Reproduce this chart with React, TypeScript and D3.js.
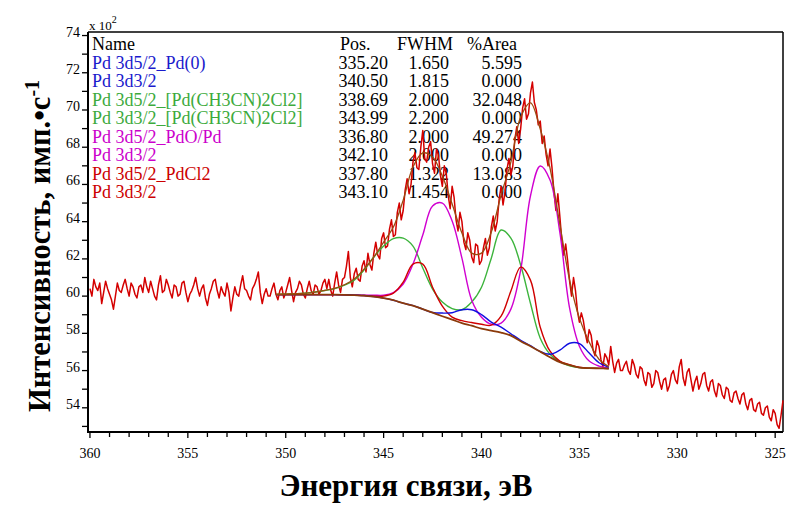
import React from 'react';
import * as d3 from 'd3';

const FONT = '"Liberation Serif", "Times New Roman", serif';

// raw spectrum, one count every 0.1 eV from 360 eV down (units of 10^2)
const specStart = 360;
const specStep = 0.1;
const spectrum = [
  60.4, 60.0, 60.9, 60.5, 60.3, 60.7, 59.6, 60.2, 60.8, 60.4, 60.1, 59.8, 59.3, 60.0, 60.7, 60.3, 60.2, 60.6, 60.9, 60.4,
  60.0, 60.7, 60.5, 60.1, 59.9, 60.5, 60.6, 60.2, 61.0, 60.5, 60.2, 60.8, 60.4, 60.0, 59.8, 60.6, 61.1, 60.2, 60.3, 60.9,
  60.6, 60.2, 59.9, 60.6, 60.5, 60.0, 60.1, 60.7, 60.8, 60.2, 59.7, 60.1, 60.3, 60.6, 61.0, 60.4, 60.0, 60.4, 60.6, 59.9,
  59.5, 60.1, 60.4, 60.8, 60.9, 60.3, 59.9, 60.5, 60.2, 60.0, 60.7, 60.2, 59.2, 59.9, 60.5, 60.1, 60.0, 60.6, 61.1, 60.4,
  60.3, 60.0, 59.8, 60.4, 60.6, 60.9, 61.3, 60.2, 59.6, 60.1, 60.4, 60.0,
  60.0, 60.4, 60.7, 60.1, 59.8, 60.3, 60.5, 59.9, 60.2, 60.6, 61.0, 60.3, 59.7, 60.2, 60.4, 60.8, 60.6, 60.1, 59.9, 60.4,
  60.8, 60.3, 60.1, 60.6, 60.5, 60.1, 60.3, 60.7, 60.9, 60.4,
  60.9, 60.3, 60.0, 60.7, 61.3, 60.6, 60.2, 60.9, 61.0, 61.6, 62.4, 61.0, 60.5, 61.2, 61.5, 60.9, 60.8, 61.6, 61.9, 61.3,
  62.3, 61.7, 61.4, 62.3, 62.9, 62.2, 62.0, 63.1, 63.4, 62.6, 62.7, 63.6, 64.1, 63.2, 63.3, 64.5, 65.0, 64.1, 64.6, 65.7,
  66.3, 65.5, 66.0, 67.2, 67.7, 66.9, 66.8, 68.0, 68.9, 67.4,
  67.2, 68.0, 68.3, 67.1, 66.6, 67.9, 67.6, 66.5, 65.9, 67.0, 66.6, 65.4, 64.7, 65.9, 65.3, 64.1, 63.5, 64.5, 64.0, 62.9,
  62.5, 63.4, 63.0, 62.1, 61.8, 62.8, 62.7, 61.7, 61.9, 62.6,
  63.1, 62.2, 62.6, 63.7, 64.3, 63.5, 64.0, 65.2, 65.9, 64.9, 65.6, 66.8, 67.4, 66.5, 67.0, 68.4, 69.1, 68.2, 69.0, 70.1,
  70.6, 69.5, 69.8, 70.9, 71.5, 70.4, 70.0, 69.2, 69.4, 68.2, 68.6, 67.6, 67.0, 67.9, 66.9, 65.6, 64.6, 65.5, 64.3, 63.0,
  62.2, 62.8, 61.9, 60.8, 60.0, 61.0, 60.3, 59.2, 58.6, 59.1,
  58.7, 58.0, 57.5, 58.2, 57.9, 57.1, 56.8, 57.6, 57.3, 56.6, 56.2, 56.9, 56.7, 56.3, 57.3, 56.5, 55.9, 56.4, 56.6, 56.0,
  56.0, 56.3, 56.5, 56.0, 55.8, 56.6, 56.3, 55.8, 55.6, 56.2, 56.1, 55.5, 55.2, 55.9, 55.8, 55.1, 55.3, 56.0, 55.9, 55.4,
  55.0, 55.5, 55.6, 54.9, 55.2, 55.8, 56.0, 55.5, 55.3, 56.2, 56.6, 55.6, 55.2, 55.9, 56.1, 55.5, 54.9, 55.4, 55.7, 55.0,
  55.3, 55.8, 55.9, 55.2, 54.9, 55.4, 55.5, 54.9, 54.6, 55.3, 55.2, 54.7, 54.5, 55.1, 55.0, 54.4, 54.3, 54.8, 54.9, 54.5,
  54.2, 54.7, 54.8, 54.2, 53.9, 54.4, 54.5, 53.9, 53.8, 54.2, 54.3, 53.7, 53.6, 54.0, 54.1, 53.5, 53.3, 53.9, 53.7, 53.1,
  52.9, 53.6, 54.4,
];

// fit curves, sampled every 0.5 eV
const fitEnergy = [
  350.5, 350, 349.5, 349, 348.5, 348, 347.5, 347, 346.5, 346,
  345.5, 345, 344.5, 344, 343.5, 343, 342.5, 342, 341.5, 341,
  340.5, 340, 339.5, 339, 338.5, 338, 337.5, 337, 336.5, 336,
  335.5, 335, 334.5, 334, 333.5,
];
const background = [
  60.08, 60.08, 60.08, 60.08, 60.08, 60.08, 60.08, 60.07, 60.05, 60.03,
  59.97, 59.89, 59.78, 59.62, 59.49, 59.30, 59.11, 58.92, 58.74, 58.55,
  58.41, 58.25, 58.15, 58.04, 57.88, 57.58, 57.31, 57.02, 56.72, 56.45,
  56.29, 56.16, 56.13, 56.12, 56.11,
];
const fitPd0 = [
  60.08, 60.08, 60.08, 60.08, 60.08, 60.08, 60.08, 60.07, 60.05, 60.03,
  59.97, 59.89, 59.78, 59.62, 59.49, 59.30, 59.12, 59.09, 59.11, 59.27,
  59.27, 59.01, 58.60, 58.33, 57.98, 57.63, 57.34, 57.02, 56.88, 57.10,
  57.47, 57.45, 56.94, 56.42, 56.18,
];
const fitComplex = [
  60.09, 60.11, 60.13, 60.16, 60.22, 60.30, 60.40, 60.59, 60.86, 61.40,
  62.10, 62.69, 63.09, 63.12, 62.69, 61.51, 60.38, 59.68, 59.33, 59.27,
  59.68, 60.48, 62.04, 63.55, 63.12, 61.67, 59.62, 57.74, 56.88, 56.48,
  56.26, 56.16, 56.13, 56.12, 56.11,
];
const fitPdO = [
  60.08, 60.08, 60.08, 60.08, 60.08, 60.08, 60.08, 60.07, 60.05, 60.05,
  60.05, 60.05, 60.19, 60.65, 61.72, 63.28, 64.84, 65.00, 64.03, 62.04,
  59.78, 58.87, 58.49, 58.55, 59.30, 61.40, 65.38, 66.99, 66.24, 63.44,
  59.35, 57.31, 56.51, 56.24, 56.13,
];
const fitPdCl2 = [
  60.08, 60.08, 60.08, 60.08, 60.08, 60.08, 60.08, 60.07, 60.05, 60.03,
  60.00, 60.00, 60.16, 60.75, 61.72, 61.72, 60.48, 59.46, 58.87, 58.68,
  58.58, 58.49, 58.44, 58.92, 60.27, 61.56, 60.86, 58.33, 57.04, 56.51,
  56.32, 56.18, 56.13, 56.12, 56.11,
];
const envelope = [
  60.09, 60.11, 60.13, 60.16, 60.22, 60.31, 60.42, 60.61, 60.92, 61.45,
  62.10, 62.90, 63.71, 65.16, 66.94, 67.69, 67.47, 66.45, 64.95, 63.39,
  62.31, 62.31, 63.44, 65.43, 67.20, 69.62, 70.38, 68.98, 66.88, 63.87,
  60.86, 58.82, 57.53, 56.61, 56.21,
];

// peak table
const peakNames = [
  'Pd 3d5/2_Pd(0)', 'Pd 3d3/2',
  'Pd 3d5/2_[Pd(CH3CN)2Cl2]', 'Pd 3d3/2_[Pd(CH3CN)2Cl2]',
  'Pd 3d5/2_PdO/Pd', 'Pd 3d3/2',
  'Pd 3d5/2_PdCl2', 'Pd 3d3/2',
];
const peakPos = ['335.20', '340.50', '338.69', '343.99', '336.80', '342.10', '337.80', '343.10'];
const peakFwhm = ['1.650', '1.815', '2.000', '2.200', '2.000', '2.000', '1.322', '1.454'];
const peakArea = ['5.595', '0.000', '32.048', '0.000', '49.274', '0.000', '13.083', '0.000'];

const xTickLabels = [360, 355, 350, 345, 340, 335, 330, 325];
const yTickLabels = [54, 56, 58, 60, 62, 64, 66, 68, 70, 72, 74];

const textColors = ['#1a1acc', '#1a1acc', '#3caa3c', '#3caa3c', '#cc00cc', '#cc00cc', '#cc0000', '#cc0000'];

const L = 88, R = 783, T = 32, B = 432;
const x = d3.scaleLinear().domain([360.1, 324.6]).range([L, R]);
const y = d3.scaleLinear().domain([52.7, 74.19]).range([B, T]);

export default function App() {
  const specLine = d3.line<number>()
    .x((_, i) => x(specStart - i * specStep))
    .y(d => y(d));
  const fitLine = d3.line<number>()
    .x((_, i) => x(fitEnergy[i]))
    .y(d => y(d))
    .curve(d3.curveCatmullRom.alpha(0.5));

  const xMinor = d3.range(325, 361, 1);
  const yMinor = d3.range(53, 75, 1);
  const rowY = (i: number) => 68.5 + i * 18.5;

  return (
    <svg width={787} height={506} style={{ position: 'absolute', left: 0, top: 0, background: '#fff', fontFamily: FONT }}>
      {/* frame */}
      <line x1={L} x2={R} y1={T} y2={T} stroke="#000" strokeWidth={1.5} />
      <line x1={R} x2={R} y1={T} y2={B} stroke="#000" strokeWidth={1.5} />
      <line x1={L} x2={L} y1={T} y2={B + 1} stroke="#000" strokeWidth={2} />
      <line x1={L - 1} x2={R} y1={B} y2={B} stroke="#000" strokeWidth={2} />

      {/* x ticks */}
      {xMinor.map(v => (
        <line key={'xm' + v} x1={x(v)} x2={x(v)} y1={B} y2={B + (v % 5 === 0 ? 6 : 5)} stroke="#000" strokeWidth={1.3} />
      ))}
      {xTickLabels.map(v => (
        <text key={'xl' + v} x={x(v)} y={458} fontSize={14} textAnchor="middle" style={{ fontFamily: FONT }}>{v}</text>
      ))}

      {/* y ticks */}
      {yMinor.map(v => (
        <line key={'ym' + v} x1={L - 6} x2={L} y1={y(v)} y2={y(v)} stroke="#000" strokeWidth={1.3} />
      ))}
      {yTickLabels.map(v => (
        <text key={'yl' + v} x={80} y={y(v) + 1} fontSize={14} textAnchor="end" style={{ fontFamily: FONT }}>{v}</text>
      ))}
      <text x={89} y={30} fontSize={13} style={{ fontFamily: FONT }}>x 10<tspan dy={-7} fontSize={10}>2</tspan></text>

      {/* peak table */}
      <g fontSize={18} style={{ fontFamily: FONT }}>
        <text x={92} y={50}>Name</text>
        <text x={340} y={50}>Pos.</text>
        <text x={397} y={50}>FWHM</text>
        <text x={467} y={50}>%Area</text>
        {peakNames.map((n, i) => (
          <g key={'row' + i}>
            <text x={92} y={rowY(i)} fill={textColors[i]}>{n}</text>
            <text x={388} y={rowY(i)} textAnchor="end">{peakPos[i]}</text>
            <text x={449} y={rowY(i)} textAnchor="end">{peakFwhm[i]}</text>
            <text x={522} y={rowY(i)} textAnchor="end">{peakArea[i]}</text>
          </g>
        ))}
      </g>

      {/* curves */}
      <path d={specLine(spectrum) || ''} fill="none" stroke="#d40000" strokeWidth={1.5} strokeLinejoin="round" />
      <path d={fitLine(fitComplex) || ''} fill="none" stroke="#3cb43c" strokeWidth={1.4} />
      <path d={fitLine(fitPdO) || ''} fill="none" stroke="#d000d0" strokeWidth={1.4} />
      <path d={fitLine(fitPdCl2) || ''} fill="none" stroke="#d00000" strokeWidth={1.4} />
      <path d={fitLine(fitPd0) || ''} fill="none" stroke="#1010e0" strokeWidth={1.4} />
      <path d={fitLine(background) || ''} fill="none" stroke="#8b3a0a" strokeWidth={1.8} />
      <path d={fitLine(envelope) || ''} fill="none" stroke="#9a4a10" strokeWidth={1.3} />

      {/* axis titles */}
      <text x={406} y={496} fontSize={31} fontWeight="bold" textAnchor="middle" style={{ fontFamily: FONT }}>Энергия связи, эВ</text>
      <text transform="translate(50,246) rotate(-90)" fontSize={30.5} fontWeight="bold" textAnchor="middle" style={{ fontFamily: FONT }}>
        Интенсивность, имп.•с<tspan dy={-11} fontSize={20}>-1</tspan>
      </text>
    </svg>
  );
}
